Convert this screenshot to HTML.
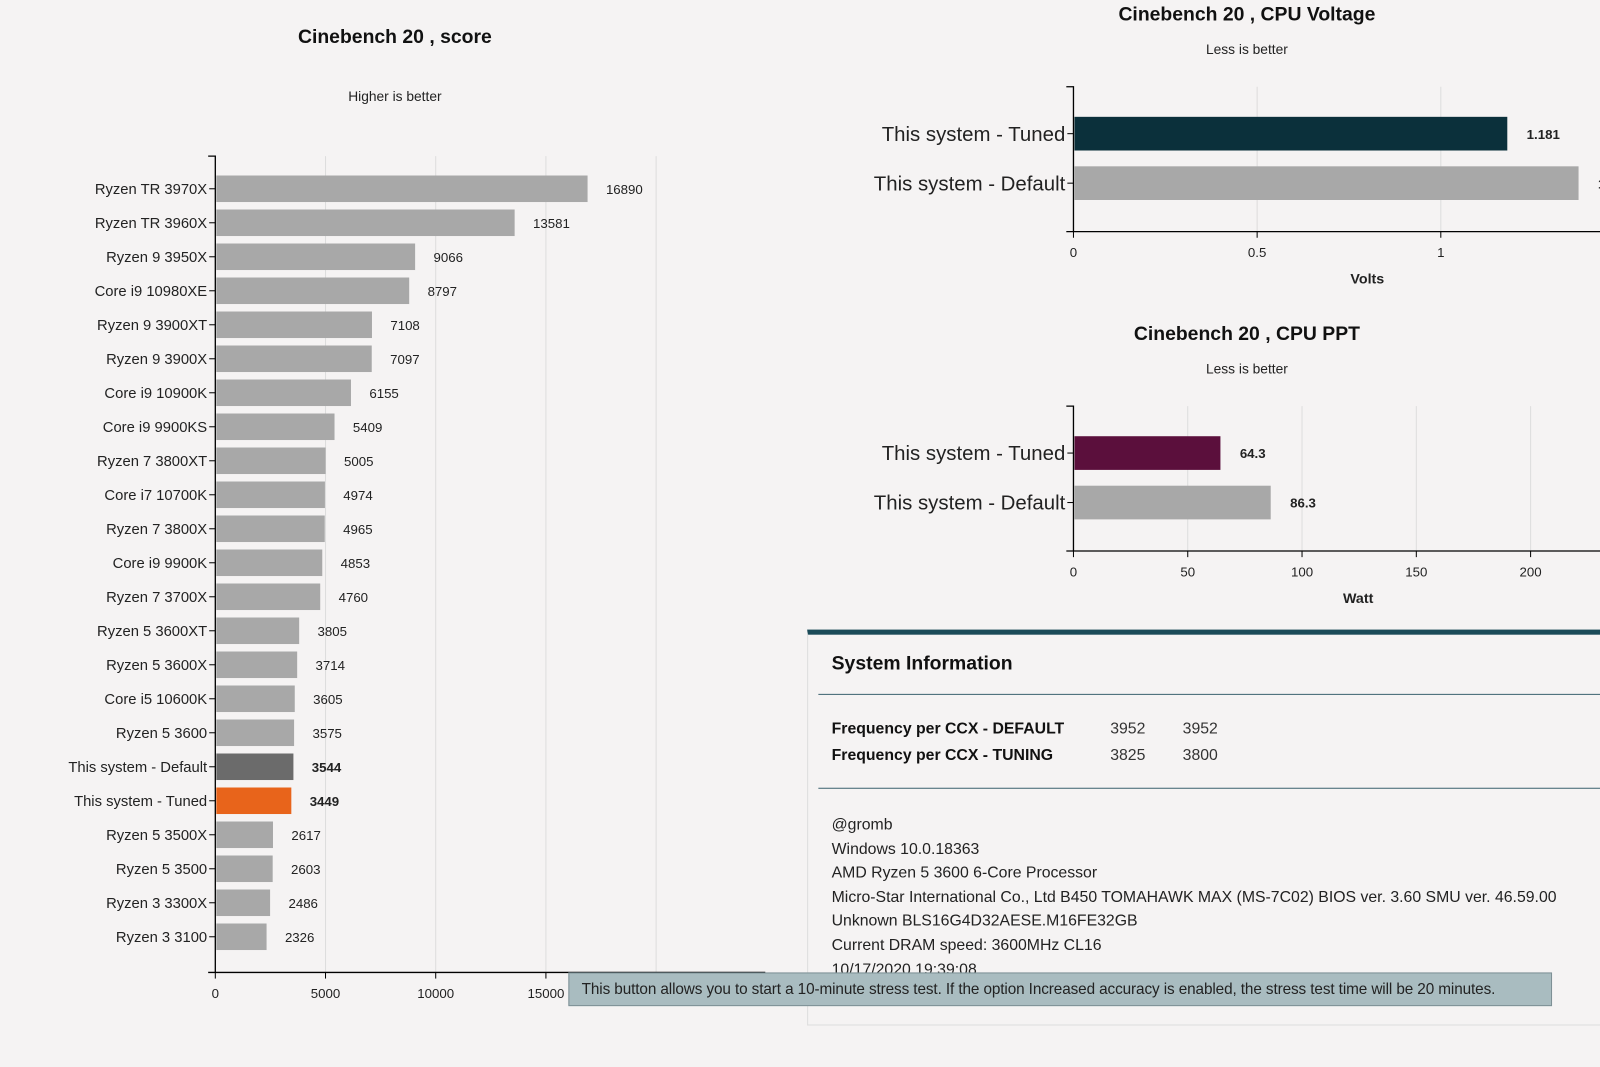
<!DOCTYPE html>
<html><head><meta charset="utf-8">
<style>
html,body{margin:0;width:1600px;height:1046px;background:#f5f3f3;overflow:hidden}
#wrap{position:absolute;left:0;top:0;width:1568px;height:1025px;transform:scale(1.0204);transform-origin:0 0;font-family:"Liberation Sans",sans-serif}
svg{position:absolute;left:0;top:0}
#info{position:absolute;left:791px;top:617px;width:809px;height:388px;border-top:5px solid #1b4b58;border-left:1px solid #ddd;border-bottom:1px solid #ddd;box-sizing:border-box}
#info .h{position:absolute;left:23px;top:18px;font-size:19px;font-weight:bold;color:#111}
#info .hr{position:absolute;left:10px;right:0;height:1px;background:#3e6470}
.row{position:absolute;left:23px;font-size:15.5px;color:#111}
.row b{display:inline-block;width:273px}
.row span{display:inline-block;width:71px;color:#333}
.txt{position:absolute;left:23px;font-size:15.5px;color:#222;line-height:23.6px}
#tip{position:absolute;left:557px;top:953px;width:964px;height:33px;background:#a9bcc0;border:1px solid #7d9095;box-sizing:border-box;font-size:15px;color:#222;line-height:31px;padding-left:12px;white-space:nowrap;letter-spacing:-0.1px;overflow:hidden}
</style></head><body>
<div id="wrap">
<svg id="chart" width="1600" height="1046"></svg>
<div id="info">
 <div class="h">System Information</div>
 <div class="hr" style="top:58px"></div>
 <div class="row" style="top:84px"><b>Frequency per CCX - DEFAULT</b><span>3952</span><span>3952</span></div>
 <div class="row" style="top:110px"><b>Frequency per CCX - TUNING</b><span>3825</span><span>3800</span></div>
 <div class="hr" style="top:150px"></div>
 <div class="txt" style="top:175px;white-space:nowrap">@gromb<br>Windows 10.0.18363<br>AMD Ryzen 5 3600 6-Core Processor<br>Micro-Star International Co., Ltd B450 TOMAHAWK MAX (MS-7C02) BIOS ver. 3.60 SMU ver. 46.59.00<br>Unknown BLS16G4D32AESE.M16FE32GB<br>Current DRAM speed: 3600MHz CL16<br>10/17/2020 19:39:08</div>
</div>
<div id="tip">This button allows you to start a 10-minute stress test. If the option Increased accuracy is enabled, the stress test time will be 20 minutes.</div>
</div>
<script>
const scoreCats=["Ryzen TR 3970X","Ryzen TR 3960X","Ryzen 9 3950X","Core i9 10980XE","Ryzen 9 3900XT","Ryzen 9 3900X","Core i9 10900K","Core i9 9900KS","Ryzen 7 3800XT","Core i7 10700K","Ryzen 7 3800X","Core i9 9900K","Ryzen 7 3700X","Ryzen 5 3600XT","Ryzen 5 3600X","Core i5 10600K","Ryzen 5 3600","This system - Default","This system - Tuned","Ryzen 5 3500X","Ryzen 5 3500","Ryzen 3 3300X","Ryzen 3 3100"];
const scoreVals=[16890,13581,9066,8797,7108,7097,6155,5409,5005,4974,4965,4853,4760,3805,3714,3605,3575,3544,3449,2617,2603,2486,2326];
const scoreTicks=[0,5000,10000,15000,20000];
const voltCats=["This system - Tuned","This system - Default"];
const voltVals=[1.181,1.375];
const voltTicks=[0,0.5,1,1.5];
const pptCats=["This system - Tuned","This system - Default"];
const pptVals=[64.3,86.3];
const pptTicks=[0,50,100,150,200,250];
const NS="http://www.w3.org/2000/svg",svg=document.getElementById('chart');
function el(t,a,txt){const e=document.createElementNS(NS,t);for(const k in a)e.setAttribute(k,a[k]);if(txt!=null)e.textContent=txt;svg.appendChild(e);return e;}
function chart(o){
 const x=v=>o.x0+v*o.k;
 o.ticks.forEach(t=>{const px=x(t);
  if(t>0&&px<1600){const g=el('line',{x1:px,x2:px,y1:o.top,y2:o.axisY,stroke:'#ddd','stroke-width':1});}
  const tl=el('line',{x1:px,x2:px,y1:o.axisY,y2:o.axisY+6,stroke:'#000'});
  const tt=el('text',{x:px,y:o.axisY+25,'text-anchor':'middle','font-size':13,fill:'#222'},t);});
 const ax=el('line',{x1:o.x0-7,x2:o.xEnd,y1:o.axisY,y2:o.axisY,stroke:'#000','stroke-width':1.3});
 const ay=el('path',{d:`M${o.x0-7},${o.top}H${o.x0}V${o.axisY}`,fill:'none',stroke:'#000','stroke-width':1.3});
 o.cats.forEach((c,i)=>{const cy=o.y0+i*o.step,v=o.vals[i];
  const b=el('rect',{x:o.x0+1,y:cy-o.bh/2,width:x(v)-o.x0-1,height:o.bh,fill:o.color(c,i)});
  const tk=el('line',{x1:o.x0-6,x2:o.x0,y1:cy,y2:cy,stroke:'#000'});
  const l=el('text',{x:o.x0-8,y:cy+o.fs*0.35,'text-anchor':'end','font-size':o.fs,fill:'#222'},c);
  const bold=o.bold(c);
  const vl=el('text',{x:x(v)+o.vOff,y:cy+5,'font-size':13,fill:'#222','font-weight':bold?'bold':'normal'},v);});
 const t=el('text',{x:o.tx,y:o.ty,'text-anchor':'middle','font-size':19,'font-weight':'bold',fill:'#111'},o.title);
 const s=el('text',{x:o.tx,y:o.sy,'text-anchor':'middle','font-size':13.5,fill:'#222'},o.sub);
 if(o.xt){const xt=el('text',{x:o.xtx,y:o.axisY+51,'text-anchor':'middle','font-size':14,'font-weight':'bold',fill:'#222'},o.xt);}
}
chart({cats:scoreCats,vals:scoreVals,ticks:scoreTicks,x0:211,k:0.0216,top:153,axisY:953,xEnd:750,y0:185,step:33.32,bh:26,fs:14.5,vOff:18,
 color:(c)=>c=="This system - Default"?'#6b6b6b':c=="This system - Tuned"?'#e8641b':'#a8a8a8',bold:c=>c.startsWith('This'),
 title:'Cinebench 20 , score',tx:387,ty:42,sub:'Higher is better',sy:99});
chart({cats:voltCats,vals:voltVals,ticks:voltTicks,x0:1052,k:360,top:85,axisY:227,xEnd:1600,y0:131,step:48.5,bh:33,fs:20,vOff:19,
 color:(c,i)=>i==0?'#0b303b':'#a8a8a8',bold:()=>true,title:'Cinebench 20 , CPU Voltage',tx:1222,ty:20,sub:'Less is better',sy:53,xt:'Volts',xtx:1340});
chart({cats:pptCats,vals:pptVals,ticks:pptTicks,x0:1052,k:2.24,top:398,axisY:540,xEnd:1600,y0:444,step:48.5,bh:33,fs:20,vOff:19,
 color:(c,i)=>i==0?'#5b0f3c':'#a8a8a8',bold:()=>true,title:'Cinebench 20 , CPU PPT',tx:1222,ty:333,sub:'Less is better',sy:366,xt:'Watt',xtx:1331});
</script>
</body></html>
